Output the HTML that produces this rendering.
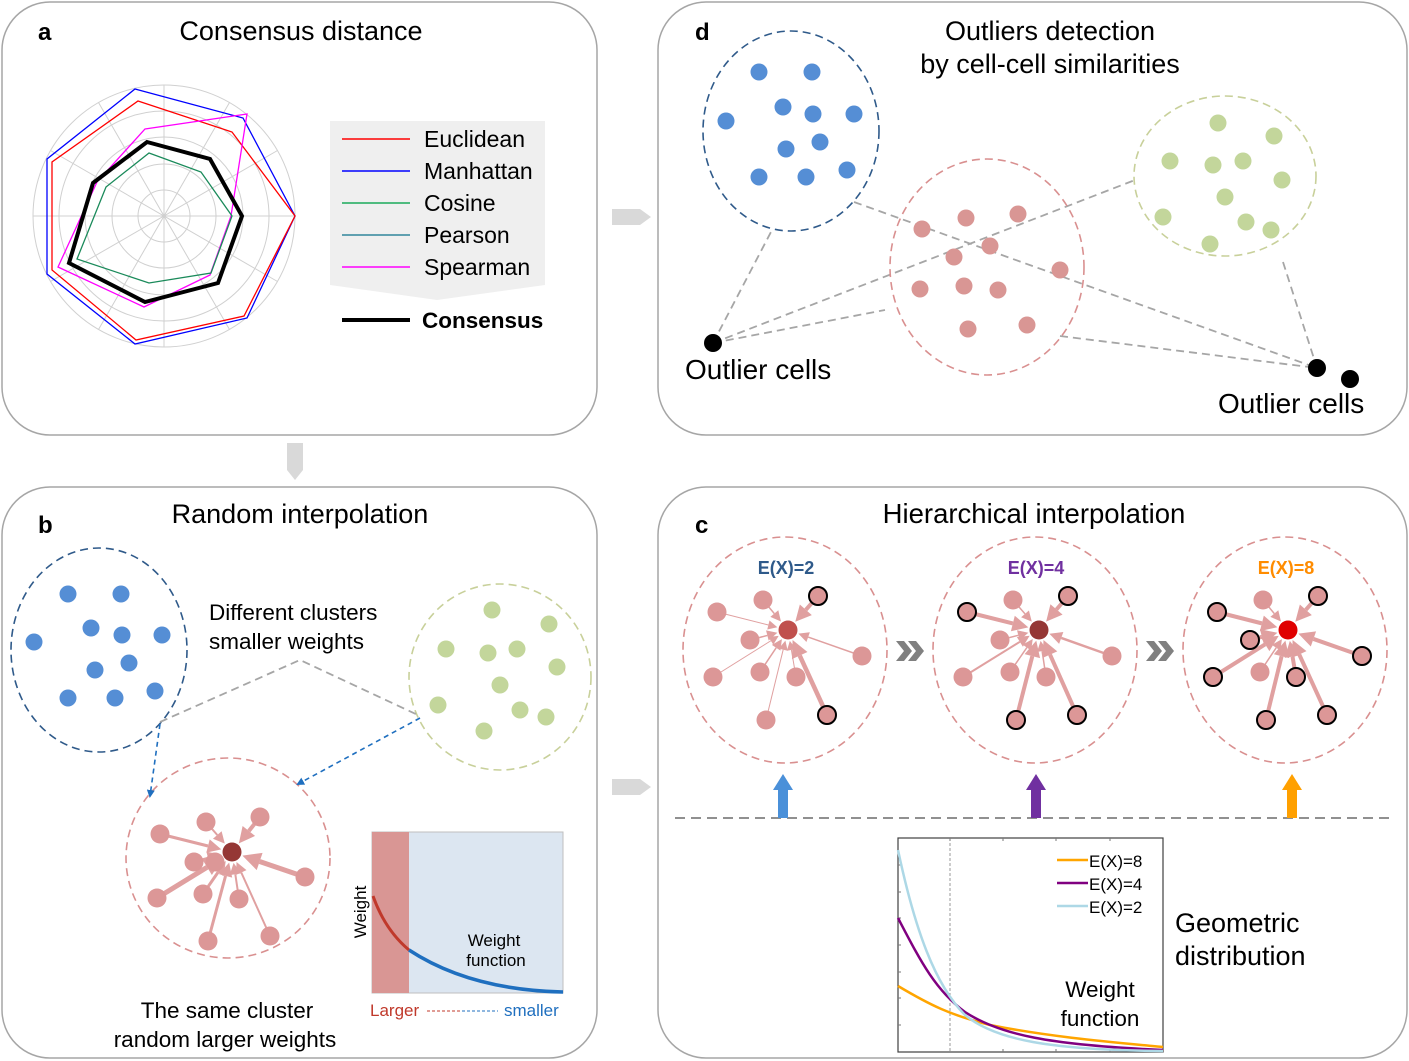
<!DOCTYPE html>
<html><head><meta charset="utf-8"><style>
html,body{margin:0;padding:0;background:#fff}
svg{display:block}
text{font-family:"Liberation Sans",Arial,sans-serif}
</style></head><body>
<svg id="s" width="1409" height="1061" viewBox="0 0 1409 1061" xmlns="http://www.w3.org/2000/svg">
<defs>
<marker id="bl" markerWidth="8" markerHeight="8" refX="6" refY="4" orient="auto" markerUnits="userSpaceOnUse"><path d="M0,0 L8,4 L0,8 z" fill="#1f6fbf"/></marker>
</defs>
<g fill="#fff" stroke="#a6a6a6" stroke-width="1.5">
<rect x="2" y="2" width="595" height="433" rx="48"/>
<rect x="658" y="2" width="749" height="433" rx="48"/>
<rect x="2" y="487" width="595" height="571" rx="48"/>
<rect x="658" y="487" width="749" height="571" rx="48"/>
</g>
<g fill="#d9d9d9">
<path d="M612,209 L640,209 L651,217 L640,225 L612,225 z"/>
<path d="M612,779 L640,779 L651,787 L640,795 L612,795 z"/>
<path d="M287,443 L303,443 L303,470 L295,480 L287,470 z"/>
</g>
<g font-size="27" fill="#000">
<text x="38" y="40" font-weight="bold" font-size="24">a</text>
<text x="301" y="40" text-anchor="middle">Consensus distance</text>
<text x="695" y="40" font-weight="bold" font-size="24">d</text>
<text x="1050" y="40" text-anchor="middle">Outliers detection</text>
<text x="1050" y="73" text-anchor="middle">by cell-cell similarities</text>
<text x="38" y="533" font-weight="bold" font-size="24">b</text>
<text x="300" y="523" text-anchor="middle">Random interpolation</text>
<text x="695" y="533" font-weight="bold" font-size="24">c</text>
<text x="1034" y="523" text-anchor="middle" font-size="27.5">Hierarchical interpolation</text>
</g>
<g fill="none" stroke="#d0d0d0" stroke-width="1">
<circle cx="164" cy="216" r="131"/><circle cx="164" cy="216" r="105"/><circle cx="164" cy="216" r="79"/><circle cx="164" cy="216" r="52"/><circle cx="164" cy="216" r="26"/>
<path d="M33,216H295M164,85V347M50.5,150.5L277.5,281.5M50.5,281.5L277.5,150.5M98.5,102.5L229.5,329.5M98.5,329.5L229.5,102.5"/>
</g>
<g fill="none" stroke-linejoin="miter">
<polygon points="135,89 243,118 295,216 247,318 135,344 47,274 47,159" stroke="#0000ff" stroke-width="1.3"/>
<polygon points="138,101 232,132 295,216 244,316 136,340 52,270 52,162" stroke="#ff0000" stroke-width="1.3"/>
<polygon points="145,129 247,114 231,216 210,275 144,307 58,267 97,182" stroke="#ff00ff" stroke-width="1.3"/>
<polygon points="149,153 201,172 232,216 211,273 149,283 77,259 106,187" stroke="#1a8a5a" stroke-width="1.3"/>
<polygon points="147,142 210,159 242,216 218,283 145,302 69,263 93,183" stroke="#000" stroke-width="4"/>
</g>
<path d="M330,121 H545 V285 L437,300 L330,285 z" fill="#efefef"/>
<g stroke-width="1.6">
<line x1="342" y1="139" x2="410" y2="139" stroke="#ff0000"/>
<line x1="342" y1="171" x2="410" y2="171" stroke="#0000ff"/>
<line x1="342" y1="203" x2="410" y2="203" stroke="#1aaa5a"/>
<line x1="342" y1="235" x2="410" y2="235" stroke="#31859c"/>
<line x1="342" y1="267" x2="410" y2="267" stroke="#ff00ff"/>
<line x1="342" y1="320" x2="410" y2="320" stroke="#000" stroke-width="4"/>
</g>
<g font-size="23" fill="#000">
<text x="424" y="147">Euclidean</text><text x="424" y="179">Manhattan</text><text x="424" y="211">Cosine</text><text x="424" y="243">Pearson</text><text x="424" y="275">Spearman</text>
<text x="422" y="328" font-weight="bold" font-size="22.5">Consensus</text>
</g>
<g fill="none" stroke="#a6a6a6" stroke-width="1.8" stroke-dasharray="8,5">
<line x1="713" y1="343" x2="772" y2="230"/>
<line x1="713" y1="343" x2="1135" y2="180"/>
<line x1="713" y1="343" x2="885" y2="310"/>
<line x1="854" y1="202" x2="1317" y2="368"/>
<line x1="1060" y1="336" x2="1317" y2="368"/>
<line x1="1283" y1="262" x2="1317" y2="368"/>
</g>
<g fill="none" stroke-width="1.6" stroke-dasharray="8,5">
<ellipse cx="791" cy="131" rx="88" ry="100" stroke="#2f5a8a"/>
<ellipse cx="987" cy="267" rx="97" ry="108" stroke="#d99090"/>
<ellipse cx="1225" cy="176" rx="91" ry="80" stroke="#c8d09a"/>
<ellipse cx="99" cy="650" rx="88" ry="102" stroke="#2f5a8a"/>
<ellipse cx="500" cy="677" rx="91" ry="93" stroke="#c8d09a"/>
<ellipse cx="228" cy="858" rx="102" ry="100" stroke="#d99090"/>
<ellipse cx="785" cy="650" rx="102" ry="113" stroke="#d99090"/>
<ellipse cx="1035" cy="650" rx="102" ry="113" stroke="#d99090"/>
<ellipse cx="1285" cy="650" rx="102" ry="113" stroke="#d99090"/>
</g>
<g id="dots"></g>
<circle cx="713" cy="343" r="9" fill="#000"/><circle cx="1317" cy="368" r="9" fill="#000"/><circle cx="1350" cy="379" r="9" fill="#000"/>
<g font-size="28" fill="#000"><text x="685" y="379">Outlier cells</text><text x="1218" y="413">Outlier cells</text></g>
<g fill="none" stroke="#a6a6a6" stroke-width="1.8" stroke-dasharray="8,5">
<polyline points="160,722 300,660 420,716"/>
</g>
<g fill="none" stroke="#1f6fbf" stroke-width="1.6" stroke-dasharray="5,4">
<line x1="160" y1="724" x2="150" y2="796" marker-end="url(#bl)"/>
<line x1="420" y1="718" x2="298" y2="784" marker-end="url(#bl)"/>
</g>
<g font-size="22.5" fill="#000"><text x="209" y="620">Different clusters</text><text x="209" y="649">smaller weights</text>
<text x="227" y="1018" text-anchor="middle">The same cluster</text><text x="225" y="1047" text-anchor="middle">random larger weights</text></g>
<g id="stars"></g>
<rect x="372" y="832" width="191" height="161" fill="#dce6f1" stroke="#bfbfbf"/>
<rect x="372" y="832" width="37" height="161" fill="#d99694"/>
<path d="M373,896 Q385,930 409,950" fill="none" stroke="#c0392b" stroke-width="3"/>
<path d="M409,950 Q470,990 563,992" fill="none" stroke="#1f6fbf" stroke-width="3.5"/>
<text x="494" y="946" font-size="17" text-anchor="middle">Weight</text><text x="496" y="966" font-size="17" text-anchor="middle">function</text>
<text transform="translate(366,912) rotate(-90)" font-size="17" text-anchor="middle">Weight</text>
<text x="370" y="1016" font-size="17" fill="#c0392b">Larger</text>
<line x1="427" y1="1011" x2="462" y2="1011" stroke="#c0392b" stroke-dasharray="3,2"/>
<line x1="462" y1="1011" x2="498" y2="1011" stroke="#1f6fbf" stroke-dasharray="3,2"/>
<text x="504" y="1016" font-size="17" fill="#1f6fbf">smaller</text>
<g font-size="18" font-weight="bold" text-anchor="middle">
<text x="786" y="574" fill="#2f5a8a">E(X)=2</text><text x="1036" y="574" fill="#7030a0">E(X)=4</text><text x="1286" y="574" fill="#ff8c00">E(X)=8</text>
</g>
<g fill="#808080">
<path d="M896,641 L904,641 L912,651 L904,661 L896,661 L904,651 z"/><path d="M908,641 L916,641 L924,651 L916,661 L908,661 L916,651 z"/>
<path d="M1146,641 L1154,641 L1162,651 L1154,661 L1146,661 L1154,651 z"/><path d="M1158,641 L1166,641 L1174,651 L1166,661 L1158,661 L1166,651 z"/>
</g>
<line x1="675" y1="818" x2="1390" y2="818" stroke="#808080" stroke-width="1.8" stroke-dasharray="10,6"/>
<path d="M778,818 V790 H773 L783,774 L793,790 H788 V818 z" fill="#4a90d9"/>
<path d="M1031,818 V790 H1026 L1036,774 L1046,790 H1041 V818 z" fill="#7030a0"/>
<path d="M1287,818 V790 H1282 L1292,774 L1302,790 H1297 V818 z" fill="#ffa000"/>
<rect x="898" y="838" width="265" height="214" fill="#fff" stroke="#404040" stroke-width="1.2"/>
<line x1="950" y1="838" x2="950" y2="1052" stroke="#999" stroke-dasharray="3,2"/>
<g stroke="#777"><path d="M898,865h3M898,892h3M898,918h3M898,945h3M898,972h3M898,998h3M898,1025h3M950,838v3M1003,838v3M1056,838v3M1110,838v3M1003,1052v-3M1056,1052v-3M1110,1052v-3"/></g>
<path d="M898,986 C930,1005 950,1015 990,1025 C1050,1037 1110,1042 1163,1047" fill="none" stroke="#ffa500" stroke-width="2.5"/>
<path d="M898,918 C920,960 935,990 965,1012 C1000,1035 1050,1045 1163,1050" fill="none" stroke="#800080" stroke-width="2.5"/>
<path d="M898,850 C915,930 935,985 965,1015 C995,1040 1050,1050 1163,1051" fill="none" stroke="#add8e6" stroke-width="2.5"/>
<g stroke-width="2.5"><line x1="1057" y1="860" x2="1088" y2="860" stroke="#ffa500"/><line x1="1057" y1="883" x2="1088" y2="883" stroke="#800080"/><line x1="1057" y1="906" x2="1088" y2="906" stroke="#add8e6"/></g>
<g font-size="17"><text x="1089" y="867">E(X)=8</text><text x="1089" y="890">E(X)=4</text><text x="1089" y="913">E(X)=2</text></g>
<text x="1100" y="997" font-size="22.5" text-anchor="middle">Weight</text><text x="1100" y="1026" font-size="22.5" text-anchor="middle">function</text>
<text x="1175" y="932" font-size="27">Geometric</text><text x="1175" y="965" font-size="27">distribution</text>
</svg>
<script>
var NS="http://www.w3.org/2000/svg";
function el(p,t,a){var e=document.createElementNS(NS,t);for(var k in a)e.setAttribute(k,a[k]);p.appendChild(e);return e;}
var D=document.getElementById("dots");
function dots(arr,c,r){arr.forEach(function(p){el(D,"circle",{cx:p[0],cy:p[1],r:r,fill:c});});}
dots([[759,72],[812,72],[783,107],[813,114],[854,114],[726,121],[820,142],[786,149],[759,177],[806,177],[847,170]],"#558ed5",8.5);
dots([[922,229],[966,218],[1018,214],[990,246],[954,257],[1060,270],[920,289],[964,286],[998,290],[968,329],[1027,325]],"#d99694",8.5);
dots([[1218,123],[1274,136],[1170,161],[1213,165],[1243,161],[1282,180],[1225,197],[1163,217],[1246,222],[1271,230],[1210,244]],"#c3d69b",8.5);
dots([[68,594],[121,594],[91,628],[122,635],[162,635],[34,642],[129,663],[95,670],[68,698],[115,698],[155,691]],"#558ed5",8.5);
dots([[492,610],[549,624],[446,649],[488,653],[517,649],[557,667],[500,685],[438,705],[520,710],[546,717],[484,731]],"#c3d69b",8.5);
var S=document.getElementById("stars");
function star(cx,cy,cc,nodes){
 nodes.forEach(function(n){
  var dx=cx-n[0],dy=cy-n[1],L=Math.sqrt(dx*dx+dy*dy),ux=dx/L,uy=dy/L,w=n[2];
  var ex=cx-ux*11,ey=cy-uy*11,hs=5+w*1.6;
  var bx=ex-ux*hs*1.4,by=ey-uy*hs*1.4;
  el(S,"line",{x1:n[0],y1:n[1],x2:bx,y2:by,stroke:"#e0a0a0","stroke-width":w});
  el(S,"polygon",{points:ex+","+ey+" "+(bx-uy*hs*0.7)+","+(by+ux*hs*0.7)+" "+(bx+uy*hs*0.7)+","+(by-ux*hs*0.7),fill:"#e0a0a0"});
 });
 nodes.forEach(function(n){
  var a={cx:n[0],cy:n[1],r:9.5,fill:"#dc9797"};
  if(n[3]){a.stroke="#000";a["stroke-width"]=2;a.r=9;}
  el(S,"circle",a);
 });
 el(S,"circle",{cx:cx,cy:cy,r:9.5,fill:cc});
}
star(232,852,"#953735",[[160,834,3],[206,822,2],[260,817,4],[194,862,3],[215,862,2],[157,898,5],[203,894,3],[239,899,2],[305,877,5],[208,941,3],[270,936,2]]);
var base=[[717,612],[763,600],[818,596],[750,640],[862,656],[713,677],[760,672],[796,677],[827,715],[766,720]];
var w1=[1,1.5,4,1.5,1.5,1,1.5,1,4.5,1],b1=[0,0,1,0,0,0,0,0,1,0];
var w2=[4,1.5,4,1.5,2.5,2,1.5,1.5,4,4],b2=[1,0,1,0,0,0,0,0,1,1];
var w3=[4,1.5,4,4,4,4,1.5,4,4,4],b3=[1,0,1,1,1,1,0,1,1,1];
function mk(off,w,b){return base.map(function(p,i){return [p[0]+off,p[1],w[i],b[i]];});}
star(788,630,"#c0504d",mk(0,w1,b1));
star(1039,630,"#953735",mk(250,w2,b2));
star(1288,630,"#e00000",mk(500,w3,b3));
</script>
</body></html>
